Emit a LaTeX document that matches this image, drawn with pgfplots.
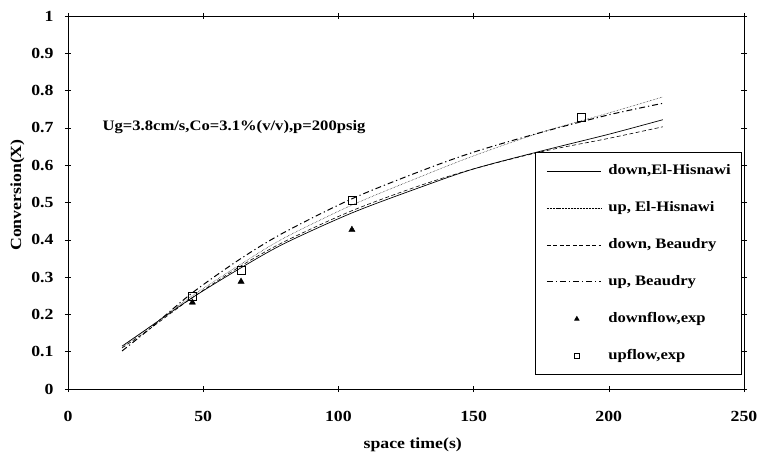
\documentclass[border=0pt]{standalone}
\usepackage{fontspec}
\setmainfont{Liberation Serif}[FakeStretch=1.15]
\usepackage{pgfplots}
\pgfplotsset{compat=1.18}
\pgfplotsset{smallmark/.style={legend image code/.code={\draw[##1, mark size=#1] plot coordinates {(30bp,0bp)};}}}

% curves: space time (s) vs conversion X
\pgfplotstableread{
t    X
20   0.115
30   0.165
46   0.245
64   0.325
80   0.390
105  0.472
130  0.540
150  0.590
175  0.638
200  0.683
220  0.722
}\downEH
\pgfplotstableread{
t    X
20   0.112
30   0.165
46   0.250
64   0.335
80   0.405
105  0.493
130  0.568
150  0.625
175  0.688
200  0.740
220  0.783
}\upEH
\pgfplotstableread{
t    X
20   0.110
30   0.160
46   0.245
64   0.330
80   0.395
105  0.478
130  0.545
150  0.590
175  0.636
200  0.672
220  0.703
}\downB
\pgfplotstableread{
t    X
20   0.102
30   0.160
46   0.258
64   0.350
80   0.420
105  0.510
130  0.583
150  0.635
175  0.688
200  0.735
220  0.766
}\upB

\begin{document}
\begin{tikzpicture}
\path[use as bounding box] (-68bp,-64bp) rectangle (692bp,389bp);
\begin{axis}[
    at={(0,0)}, anchor=south west,
    scale only axis, width=676bp, height=373bp,
    xmin=0, xmax=250, ymin=0, ymax=1,
    xtick={0,50,100,150,200,250},
    ytick={0,0.1,0.2,0.3,0.4,0.5,0.6,0.7,0.8,0.9,1},
    /pgf/number format/assume math mode=true,
    tick align=center, major tick length=6bp,
    tick style={black, line width=0.6pt},
    axis line style={black, line width=0.9pt},
    tick label style={font=\fontsize{15.5}{16}\selectfont\bfseries},
    xticklabel style={yshift=-16bp},
    yticklabel style={xshift=-8bp},
    label style={font=\fontsize{15.5}{16}\selectfont\bfseries},
    xlabel={space time(s)},
    ylabel={Conversion(X)},
    xlabel style={at={(axis description cs:0.51,-0.150)}, anchor=center},
    ylabel style={at={(axis description cs:-0.075,0.52)}, anchor=center},
    legend style={at={(rel axis cs:0.997,0.635)}, anchor=north east,
        draw=black, line width=0.6pt,
        font=\fontsize{14.5}{15}\selectfont\bfseries,
        inner xsep=11bp, inner ysep=12bp, row sep=24bp,
        nodes={inner sep=0pt, text height=10bp, text depth=3bp},
        /tikz/every odd column/.append style={column sep=7bp}},
    legend cell align=left,
    legend image code/.code={\draw[mark repeat=2,mark phase=2,#1]
        plot coordinates {(0bp,0bp) (27bp,0bp) (54bp,0bp)};},
  ]
  \addplot[black, line width=0.7pt, smooth] table[x=t,y=X] {\downEH};
  \addlegendentry{down,El-Hisnawi}
  \addplot[black, line width=0.5pt, densely dotted, smooth] table[x=t,y=X] {\upEH};
  \addlegendentry{up, El-Hisnawi}
  \addplot[black, line width=0.6pt, dash pattern=on 4pt off 2.5pt, smooth] table[x=t,y=X] {\downB};
  \addlegendentry{down, Beaudry}
  \addplot[black, line width=1pt, dash pattern=on 6pt off 3pt on 1.2pt off 3pt, smooth] table[x=t,y=X] {\upB};
  \addlegendentry{up, Beaudry}
  \addplot[only marks, mark=triangle*, mark size=3.6pt, black, smallmark=2.6pt]
      coordinates {(46,0.232) (64,0.288) (105,0.427)};
  \addlegendentry{downflow,exp}
  \addplot[only marks, mark=square, mark size=4pt, black,
      mark options={fill=white, line width=0.6pt}, smallmark=2.4pt]
      coordinates {(46,0.248) (64,0.318) (105,0.507) (190,0.728)};
  \addlegendentry{upflow,exp}
  \node[anchor=west, font=\fontsize{14.5}{15}\selectfont\bfseries]
      at (axis cs:11.5,0.703) {Ug=3.8cm/s,Co=3.1\%(v/v),p=200psig};
\end{axis}
\end{tikzpicture}
\end{document}
